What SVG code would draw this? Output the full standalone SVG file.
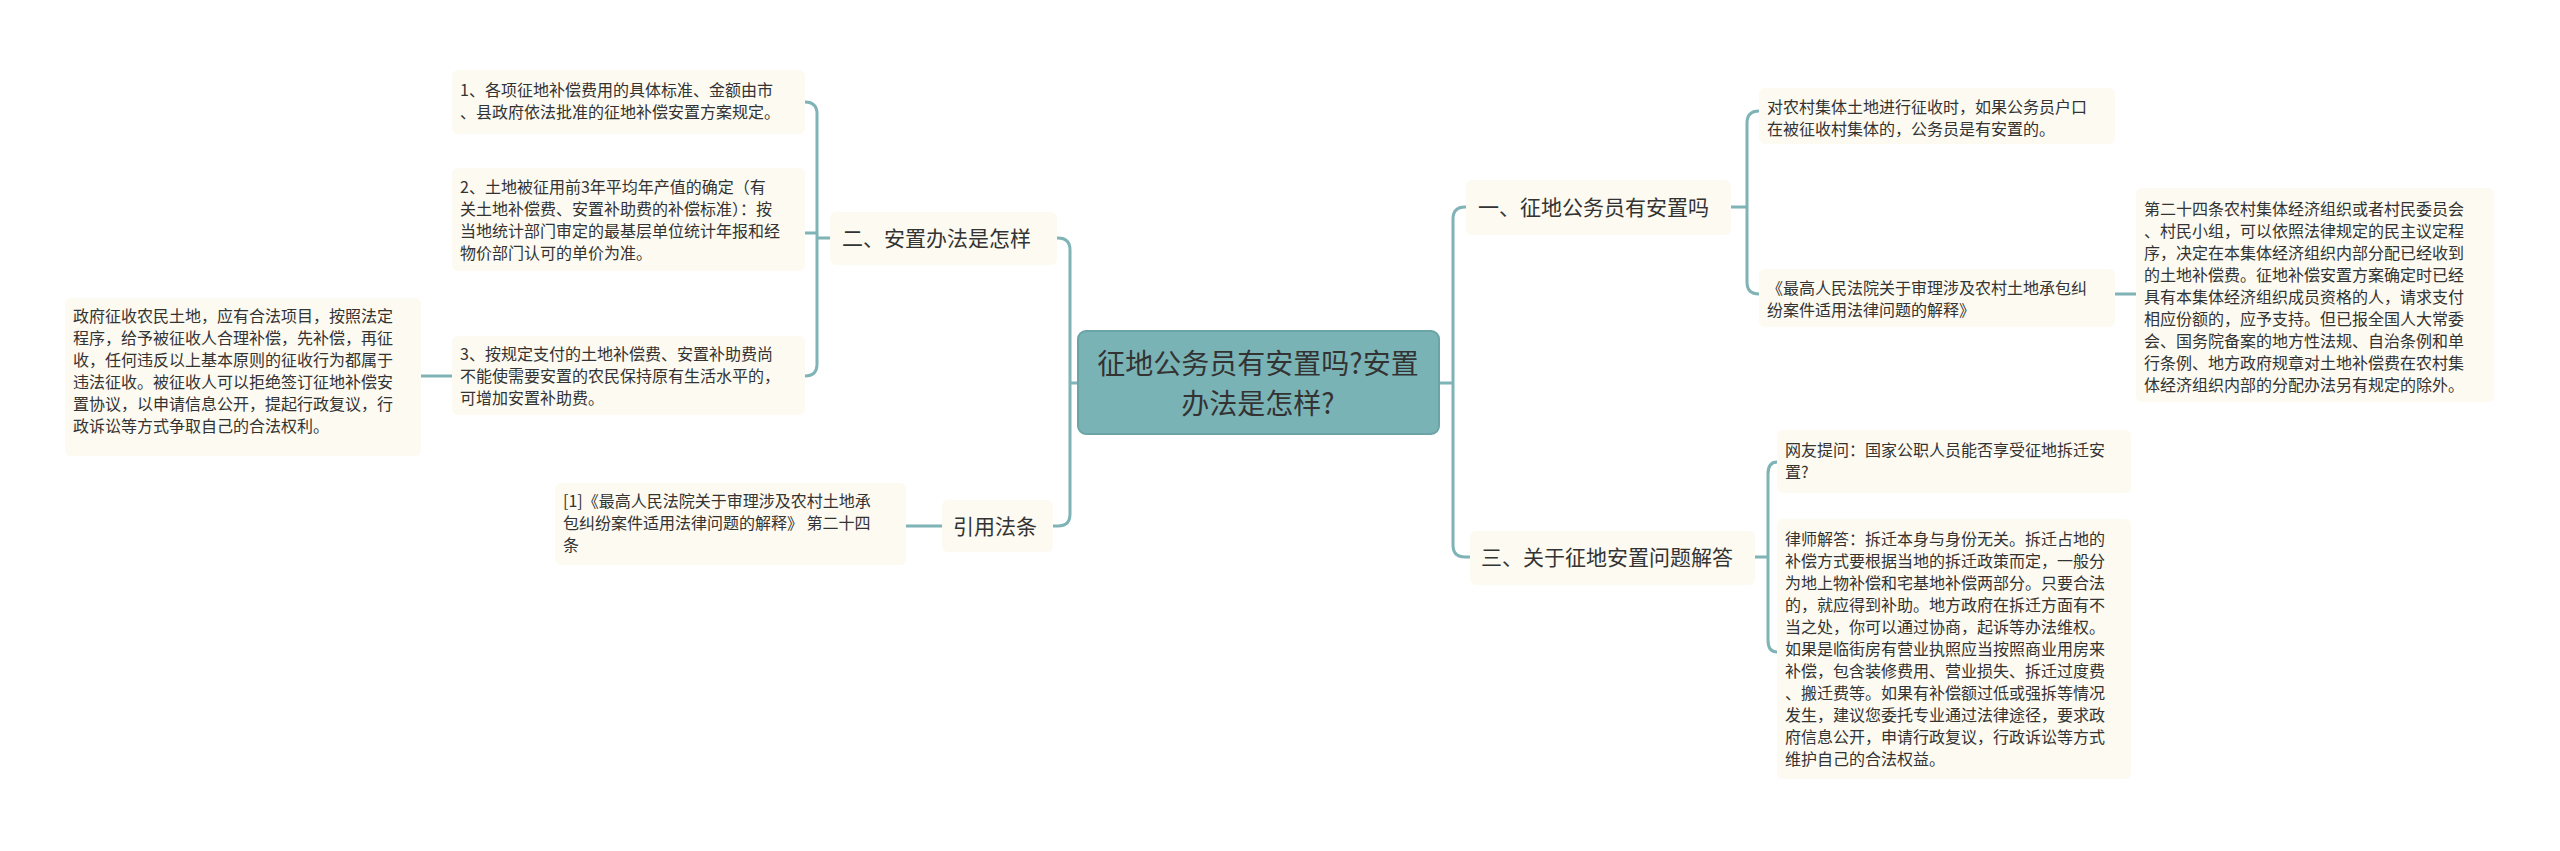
<svg xmlns="http://www.w3.org/2000/svg" width="2560" height="851" viewBox="0 0 2560 851">
<style>
.bg{fill:#ffffff}
.leaf{fill:#fcfaf1}
.lt{font-family:"Noto Sans CJK SC","Liberation Sans",sans-serif;font-size:16px;fill:#333}
.bt{font-family:"Noto Sans CJK SC","Liberation Sans",sans-serif;font-size:21px;fill:#333}
.ct{font-family:"Noto Sans CJK SC","Liberation Sans",sans-serif;font-size:28px;fill:#333;text-anchor:middle}
.con path{fill:none;stroke:#7fb3b6;stroke-width:3}
</style>
<rect class="bg" width="2560" height="851"/>
<g class="con">
<path d="M1439 383 H1453 M1453 383 V219 Q1453 207 1465 207 H1466 M1453 383 V545 Q1453 557 1465 557 H1470"/>
<path d="M1078 383 H1070 M1070 383 V250 Q1070 238 1058 238 H1057 M1070 383 V514 Q1070 526 1058 526 H1053"/>
<path d="M1731 207 H1747 M1747 207 V123 Q1747 111 1759 111 M1747 207 V282 Q1747 294 1759 294"/>
<path d="M2115 294 H2136"/>
<path d="M1755 557 H1768 M1768 557 V474 Q1768 462 1777 462 M1768 557 V640 Q1768 652 1777 652"/>
<path d="M830 238 H817 M817 238 V114 Q817 102 805 102 M817 238 V233 H805 M817 238 V364 Q817 376 805 376"/>
<path d="M452 376 H421"/>
<path d="M942 526 H906"/>
</g>
<g id="center"><rect x="1078" y="331" width="361" height="103" rx="8" fill="#7ab3b6" stroke="#6aa4a7" stroke-width="2"/>
<text class="ct" x="1258" y="374">征地公务员有安置吗?安置</text><text class="ct" x="1258" y="414">办法是怎样?</text></g>
<g id="b1"><rect class="leaf" x="1466" y="180" width="265" height="55" rx="6"/><text class="bt" x="1478" y="215">一、征地公务员有安置吗</text></g>
<g id="b3"><rect class="leaf" x="1470" y="531" width="285" height="54" rx="6"/><text class="bt" x="1481" y="565">三、关于征地安置问题解答</text></g>
<g id="b2"><rect class="leaf" x="830" y="212" width="227" height="53" rx="6"/><text class="bt" x="842" y="246">二、安置办法是怎样</text></g>
<g id="b4"><rect class="leaf" x="942" y="500" width="111" height="52" rx="6"/><text class="bt" x="953" y="534">引用法条</text></g>
<g id="l1"><rect class="leaf" x="452" y="70" width="353" height="64" rx="6"/><text class="lt" x="460"><tspan x="460" y="96">1、各项征地补偿费用的具体标准、金额由市</tspan><tspan x="460" y="118">、县政府依法批准的征地补偿安置方案规定。</tspan></text></g>
<g id="l2"><rect class="leaf" x="452" y="168" width="353" height="103" rx="6"/><text class="lt"><tspan x="460" y="193">2、土地被征用前3年平均年产值的确定（有</tspan><tspan x="460" y="215">关土地补偿费、安置补助费的补偿标准）：按</tspan><tspan x="460" y="237">当地统计部门审定的最基层单位统计年报和经</tspan><tspan x="460" y="259">物价部门认可的单价为准。</tspan></text></g>
<g id="l3"><rect class="leaf" x="452" y="336" width="353" height="79" rx="6"/><text class="lt"><tspan x="460" y="360">3、按规定支付的土地补偿费、安置补助费尚</tspan><tspan x="460" y="382">不能使需要安置的农民保持原有生活水平的，</tspan><tspan x="460" y="404">可增加安置补助费。</tspan></text></g>
<g id="l4"><rect class="leaf" x="65" y="298" width="356" height="158" rx="6"/><text class="lt"><tspan x="73" y="322">政府征收农民土地，应有合法项目，按照法定</tspan><tspan x="73" y="344">程序，给予被征收人合理补偿，先补偿，再征</tspan><tspan x="73" y="366">收，任何违反以上基本原则的征收行为都属于</tspan><tspan x="73" y="388">违法征收。被征收人可以拒绝签订征地补偿安</tspan><tspan x="73" y="410">置协议，以申请信息公开，提起行政复议，行</tspan><tspan x="73" y="432">政诉讼等方式争取自己的合法权利。</tspan></text></g>
<g id="l5"><rect class="leaf" x="555" y="483" width="351" height="82" rx="6"/><text class="lt"><tspan x="563" y="507">[1]《最高人民法院关于审理涉及农村土地承</tspan><tspan x="563" y="529">包纠纷案件适用法律问题的解释》 第二十四</tspan><tspan x="563" y="551">条</tspan></text></g>
<g id="r1"><rect class="leaf" x="1759" y="88" width="356" height="56" rx="6"/><text class="lt"><tspan x="1767" y="113">对农村集体土地进行征收时，如果公务员户口</tspan><tspan x="1767" y="135">在被征收村集体的，公务员是有安置的。</tspan></text></g>
<g id="r2"><rect class="leaf" x="1759" y="269" width="356" height="58" rx="6"/><text class="lt"><tspan x="1767" y="294">《最高人民法院关于审理涉及农村土地承包纠</tspan><tspan x="1767" y="316">纷案件适用法律问题的解释》</tspan></text></g>
<g id="r3"><rect class="leaf" x="2136" y="188" width="358" height="214" rx="6"/><text class="lt"><tspan x="2144" y="215">第二十四条农村集体经济组织或者村民委员会</tspan><tspan x="2144" y="237">、村民小组，可以依照法律规定的民主议定程</tspan><tspan x="2144" y="259">序，决定在本集体经济组织内部分配已经收到</tspan><tspan x="2144" y="281">的土地补偿费。征地补偿安置方案确定时已经</tspan><tspan x="2144" y="303">具有本集体经济组织成员资格的人，请求支付</tspan><tspan x="2144" y="325">相应份额的，应予支持。但已报全国人大常委</tspan><tspan x="2144" y="347">会、国务院备案的地方性法规、自治条例和单</tspan><tspan x="2144" y="369">行条例、地方政府规章对土地补偿费在农村集</tspan><tspan x="2144" y="391">体经济组织内部的分配办法另有规定的除外。</tspan></text></g>
<g id="r4"><rect class="leaf" x="1777" y="430" width="354" height="63" rx="6"/><text class="lt"><tspan x="1785" y="456">网友提问：国家公职人员能否享受征地拆迁安</tspan><tspan x="1785" y="478">置?</tspan></text></g>
<g id="r5"><rect class="leaf" x="1777" y="519" width="354" height="260" rx="6"/><text class="lt"><tspan x="1785" y="545">律师解答：拆迁本身与身份无关。拆迁占地的</tspan><tspan x="1785" y="567">补偿方式要根据当地的拆迁政策而定，一般分</tspan><tspan x="1785" y="589">为地上物补偿和宅基地补偿两部分。只要合法</tspan><tspan x="1785" y="611">的，就应得到补助。地方政府在拆迁方面有不</tspan><tspan x="1785" y="633">当之处，你可以通过协商，起诉等办法维权。</tspan><tspan x="1785" y="655">如果是临街房有营业执照应当按照商业用房来</tspan><tspan x="1785" y="677">补偿，包含装修费用、营业损失、拆迁过度费</tspan><tspan x="1785" y="699">、搬迁费等。如果有补偿额过低或强拆等情况</tspan><tspan x="1785" y="721">发生，建议您委托专业通过法律途径，要求政</tspan><tspan x="1785" y="743">府信息公开，申请行政复议，行政诉讼等方式</tspan><tspan x="1785" y="765">维护自己的合法权益。</tspan></text></g>
</svg>
